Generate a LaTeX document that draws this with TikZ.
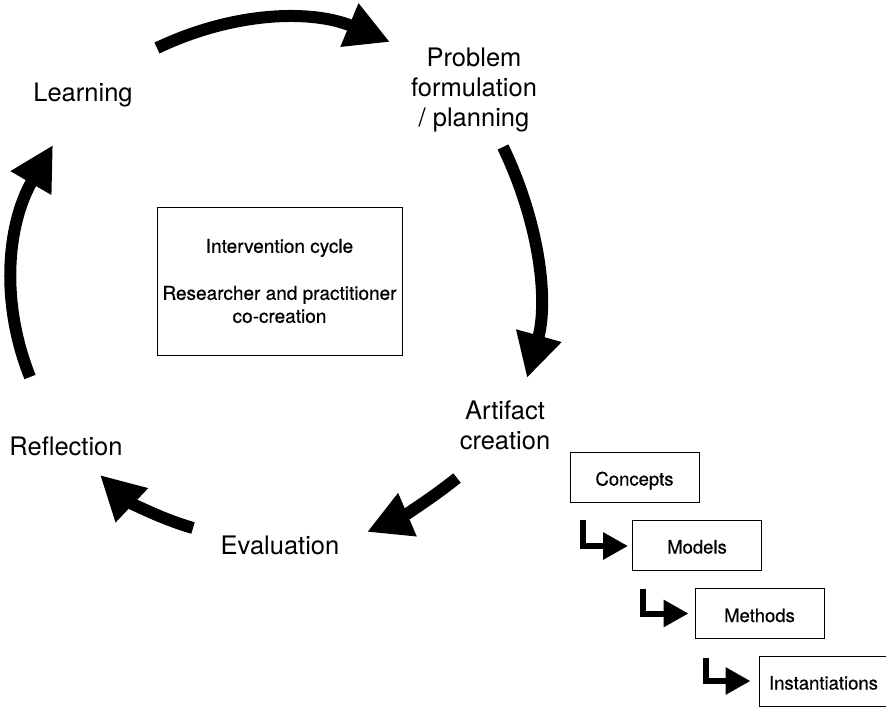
\documentclass[tikz,border=0pt]{standalone}
\usepackage{fontspec}
\setmainfont{TeX Gyre Heros}
\newfontfamily\medfont[FakeBold=0.5]{TeX Gyre Heros}
\usetikzlibrary{arrows.meta,calc}
\begin{document}
\begin{tikzpicture}[x=1pt,y=-1pt,
  lbl/.style={font=\fontsize{25.5}{30}\selectfont, align=center, inner sep=0pt},
  cyc/.style={line width=12pt, -{Triangle[length=44pt,width=44pt]}},
  elbow/.style={line width=6pt, miter limit=10, -{Triangle[length=25pt,width=26pt]}},
  bigbox/.style={draw, line width=1pt, minimum width=245pt, minimum height=148pt, inner sep=0pt,
    align=center, font=\medfont\fontsize{19}{23}\selectfont},
  smallbox/.style={draw, line width=1pt, minimum width=129pt, minimum height=50pt, inner sep=0pt,
    text height=17pt, text depth=0pt, font=\medfont\fontsize{18.5}{22}\selectfont}
]
\useasboundingbox (0,0) rectangle (886,707);

% labels
\node[lbl] (learn) at (83,94.5) {Learning};
\node[lbl] (prob) at (474,90.4) {Problem\\formulation\\/ planning};
\node[lbl] (art) at (505,425) {Artifact\\creation};
\node[lbl] (eval) at (280,545) {Evaluation};
\node[lbl] (refl) at (66,446) {Reflection};

% central box
\node[bigbox] (cycle) at (279.5,281) {Intervention cycle\\[24pt]Researcher and practitioner\\co-creation};

% artifact boxes
\node[smallbox] (concepts) at (634.5,477) {Concepts};
\node[smallbox] (models) at (697,545) {Models};
\node[smallbox] (methods) at (759.5,613.5) {Methods};
\node[smallbox] (inst) at (823.5,681) {Instantiations};

% cycle arrow end points
\coordinate (a1s) at (157,48);   \coordinate (a1e) at (390,42);
\coordinate (a2s) at (503,147);  \coordinate (a2e) at (527,378);
\coordinate (a3s) at (457,478);  \coordinate (a3e) at (367,532);
\coordinate (a4s) at (193,528);  \coordinate (a4e) at (100,475);
\coordinate (a5s) at (30,377);   \coordinate (a5e) at (53,145);

\draw[cyc] (a1s) .. controls (234,11.3) and (311.7,9.3) .. (a1e);
\draw[cyc] (a2s) .. controls (540.3,224.7) and (548.3,301.7) .. (a2e);
\draw[cyc] (a3s) .. controls (429.7,500) and (399.7,518) .. (a3e);
\draw[cyc] (a4s) .. controls (157.3,517.7) and (126.3,500) .. (a4e);
\draw[cyc] (a5s) .. controls (-0.3,301) and (7.3,223.7) .. (a5e);

% elbow arrows
\draw[elbow] ($(concepts.south west)+(13.5,17)$) |- ($(models.west)+(-4,1)$);
\draw[elbow] ($(models.south west)+(11,18)$) |- ($(methods.west)+(-6,0)$);
\draw[elbow] ($(methods.south west)+(11,19)$) |- ($(inst.west)+(-8,0)$);
\end{tikzpicture}
\end{document}
